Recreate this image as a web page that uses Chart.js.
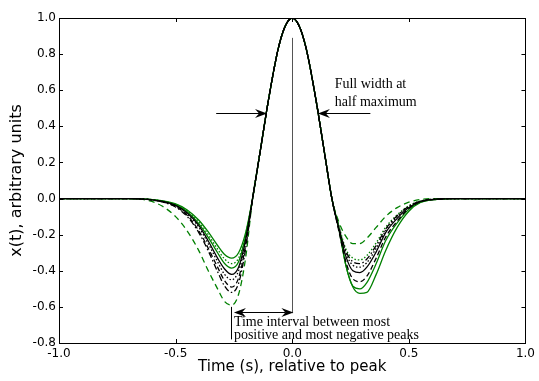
<!DOCTYPE html>
<html><head><meta charset="utf-8">
<script src="https://cdn.jsdelivr.net/npm/chart.js@4/dist/chart.umd.min.js"></script>
<style>html,body{margin:0;padding:0;background:#fff}#wrap{width:539px;height:381px}</style>
</head><body><div id="wrap"><canvas id="c" width="539" height="381"></canvas></div>
<script>
const timeLeft  = [-1, -0.8, -0.7, -0.62, -0.56, -0.5, -0.45, -0.4, -0.36, -0.32, -0.29, -0.26, -0.23, -0.2];
const timeMain  = [-0.17, -0.14, -0.1, -0.06, -0.03, 0, 0.03, 0.06, 0.1, 0.14, 0.17];
const timeRight = [0.2, 0.23, 0.26, 0.29, 0.32, 0.36, 0.4, 0.45, 0.5, 0.55, 0.62, 0.7, 0.8, 1.0];
const mainLobe  = [0, 0.24, 0.56, 0.83, 0.955, 1, 0.955, 0.83, 0.56, 0.24, 0];

const greenSolidA_left  = [0, 0, 0, -0.003, -0.012, -0.03, -0.063, -0.12, -0.185, -0.26, -0.31, -0.33, -0.30, -0.19];
const greenSolidA_right = [-0.16, -0.37, -0.49, -0.525, -0.52, -0.42, -0.29, -0.16, -0.07, -0.022, -0.004, 0, 0, 0];
const greenSolidB_left  = [0, 0, 0, -0.004, -0.013, -0.035, -0.073, -0.14, -0.215, -0.30, -0.36, -0.385, -0.35, -0.21];
const greenSolidB_right = [-0.17, -0.37, -0.485, -0.50, -0.465, -0.36, -0.235, -0.135, -0.06, -0.02, -0.004, 0, 0, 0];
const greenDashed_left  = [0, 0, 0, -0.01, -0.04, -0.10, -0.18, -0.29, -0.40, -0.50, -0.57, -0.59, -0.53, -0.33];
const greenDashed_right = [-0.13, -0.21, -0.25, -0.25, -0.22, -0.16, -0.10, -0.05, -0.02, -0.005, 0, 0, 0, 0];
const greenDotted_left  = [0, 0, 0, -0.004, -0.013, -0.032, -0.068, -0.13, -0.20, -0.28, -0.335, -0.36, -0.33, -0.20];
const greenDotted_right = [-0.15, -0.28, -0.33, -0.34, -0.315, -0.245, -0.16, -0.09, -0.04, -0.013, -0.003, 0, 0, 0];
const blackSolid_left   = [0, 0, 0, -0.004, -0.015, -0.038, -0.08, -0.15, -0.235, -0.33, -0.39, -0.42, -0.38, -0.23];
const blackSolid_right  = [-0.17, -0.32, -0.40, -0.41, -0.38, -0.295, -0.19, -0.11, -0.05, -0.016, -0.003, 0, 0, 0];
const blackDashed_left  = [0, 0, 0, -0.005, -0.017, -0.044, -0.093, -0.18, -0.275, -0.38, -0.455, -0.49, -0.44, -0.26];
const blackDashed_right = [-0.18, -0.35, -0.445, -0.46, -0.43, -0.33, -0.215, -0.125, -0.055, -0.018, -0.004, 0, 0, 0];
const blackDashDot_left = [0, 0, 0, -0.005, -0.018, -0.047, -0.10, -0.19, -0.29, -0.405, -0.485, -0.52, -0.47, -0.28];
const blackDashDot_right= [-0.16, -0.29, -0.35, -0.36, -0.335, -0.26, -0.17, -0.095, -0.043, -0.014, -0.003, 0, 0, 0];
const blackDotted_left  = [0, 0, 0, -0.005, -0.016, -0.04, -0.085, -0.16, -0.25, -0.35, -0.42, -0.45, -0.40, -0.24];
const blackDotted_right = [-0.16, -0.30, -0.37, -0.38, -0.355, -0.275, -0.18, -0.10, -0.045, -0.015, -0.003, 0, 0, 0];

const xTicks = [-1.0, -0.5, 0.0, 0.5, 1.0];
const yTicks = [-0.8, -0.6, -0.4, -0.2, 0.0, 0.2, 0.4, 0.6, 0.8, 1.0];

// annotations (data coordinates)
const fwhmArrowLeft  = [[-0.326, 0.474], [-0.108, 0.474]];
const fwhmArrowRight = [[0.335, 0.476], [0.110, 0.476]];
const fwhmText = ["Full width at", "half maximum"];
const fwhmTextPos = [0.182, 0.63, 0.532];
const peakLine = [[0, 0.89], [0, -0.635]];
const troughLine = [[-0.262, -0.60], [-0.262, -0.78]];
const intervalArrow = [[-0.25, -0.626], [0.005, -0.626]];
const intervalText = ["Time interval between most", "positive and most negative peaks"];
const intervalTextPos = [-0.25, -0.686, -0.757];

const time = timeLeft.concat(timeMain, timeRight);
const GREEN = '#008000', BLACK = '#000000';
function series(left, right){ const v = left.concat(mainLobe, right); return time.map((t,i)=>({x:t, y:v[i]})); }
function ds(label, left, right, color, dash){
  return {label, data: series(left, right), borderColor: color, borderWidth: 1.3, borderDash: dash,
    pointRadius: 0, fill: false, cubicInterpolationMode: 'monotone'};
}

const datasets = [
  ds('black dotted', blackDotted_left, blackDotted_right, BLACK, [1.5, 2]),
  ds('black dash-dot', blackDashDot_left, blackDashDot_right, BLACK, [6, 2.5, 1.5, 2.5]),
  ds('black dashed', blackDashed_left, blackDashed_right, BLACK, [5, 3]),
  ds('black solid', blackSolid_left, blackSolid_right, BLACK, []),
  ds('green dotted', greenDotted_left, greenDotted_right, GREEN, [1.5, 2]),
  ds('green dashed', greenDashed_left, greenDashed_right, GREEN, [6, 4]),
  ds('green solid B', greenSolidB_left, greenSolidB_right, GREEN, []),
  ds('green solid A', greenSolidA_left, greenSolidA_right, GREEN, []),
];

function arrowHead(ctx, x, y, ang){
  const L = 12, W = 4.5, N = 8;
  ctx.save(); ctx.translate(x, y); ctx.rotate(ang);
  ctx.beginPath(); ctx.moveTo(0,0); ctx.lineTo(-L, -W); ctx.lineTo(-N, 0); ctx.lineTo(-L, W); ctx.closePath();
  ctx.fill(); ctx.restore();
}

const frame = {
  id: 'frame',
  afterDraw(chart){
    const {ctx, chartArea: a, scales: {x, y}} = chart;
    ctx.save();
    ctx.strokeStyle = '#000'; ctx.lineWidth = 1;
    ctx.strokeRect(Math.round(a.left)+0.5, Math.round(a.top)+0.5, Math.round(a.right-a.left), Math.round(a.bottom-a.top));
    const tl = 4;
    ctx.beginPath();
    xTicks.forEach(v=>{ const px = Math.round(x.getPixelForValue(v))+0.5;
      ctx.moveTo(px, a.bottom); ctx.lineTo(px, a.bottom - tl);
      ctx.moveTo(px, a.top); ctx.lineTo(px, a.top + tl); });
    yTicks.forEach(v=>{ const py = Math.round(y.getPixelForValue(v))+0.5;
      ctx.moveTo(a.left, py); ctx.lineTo(a.left + tl, py);
      ctx.moveTo(a.right, py); ctx.lineTo(a.right - tl, py); });
    ctx.stroke();

    const P = (p)=>[x.getPixelForValue(p[0]), y.getPixelForValue(p[1])];
    ctx.fillStyle = '#000'; ctx.strokeStyle = '#000'; ctx.lineWidth = 1;
    let p0 = P(peakLine[0]), p1 = P(peakLine[1]);
    ctx.strokeStyle = '#555';
    ctx.beginPath(); ctx.moveTo(Math.round(p0[0])+0.5, p0[1]); ctx.lineTo(Math.round(p1[0])+0.5, p1[1]); ctx.stroke();
    ctx.strokeStyle = '#000';
    p0 = P(troughLine[0]); p1 = P(troughLine[1]);
    ctx.beginPath(); ctx.moveTo(Math.round(p0[0])+0.5, p0[1]); ctx.lineTo(Math.round(p1[0])+0.5, p1[1]); ctx.stroke();
    [fwhmArrowLeft, fwhmArrowRight].forEach(arr=>{
      const s = P(arr[0]), e = P(arr[1]);
      const ang = Math.atan2(e[1]-s[1], e[0]-s[0]);
      ctx.beginPath(); ctx.moveTo(s[0], Math.round(s[1])+0.5); ctx.lineTo(e[0]-8*Math.cos(ang), Math.round(e[1])+0.5); ctx.stroke();
      arrowHead(ctx, e[0], Math.round(e[1])+0.5, ang);
    });
    const s = P(intervalArrow[0]), e = P(intervalArrow[1]);
    const yy = Math.round(s[1])+0.5;
    ctx.beginPath(); ctx.moveTo(s[0]+8, yy); ctx.lineTo(e[0]-8, yy); ctx.stroke();
    arrowHead(ctx, s[0], yy, Math.PI); arrowHead(ctx, e[0], yy, 0);
    ctx.font = '14px "Liberation Serif", serif';
    ctx.textBaseline = 'middle'; ctx.textAlign = 'left';
    ctx.fillText(fwhmText[0], x.getPixelForValue(fwhmTextPos[0]), y.getPixelForValue(fwhmTextPos[1]));
    ctx.fillText(fwhmText[1], x.getPixelForValue(fwhmTextPos[0]), y.getPixelForValue(fwhmTextPos[2]));
    ctx.fillText(intervalText[0], x.getPixelForValue(intervalTextPos[0]), y.getPixelForValue(intervalTextPos[1]));
    ctx.fillText(intervalText[1], x.getPixelForValue(intervalTextPos[0]), y.getPixelForValue(intervalTextPos[2]));
    ctx.restore();
  }
};

const fmt = v => (Math.abs(v) < 1e-9 ? 0 : v).toFixed(1);

new Chart(document.getElementById('c'), {
  type: 'line',
  data: { datasets },
  options: {
    responsive: false, animation: false, devicePixelRatio: 1,
    layout: { padding: { left: 0, right: 11, top: 18, bottom: 0 } },
    plugins: { legend: { display: false }, tooltip: { enabled: false } },
    scales: {
      x: { type: 'linear', min: -1, max: 1,
        afterFit: s => { s.height = 38; },
        afterBuildTicks: s => { s.ticks = xTicks.map(v=>({value: v})); },
        ticks: { callback: fmt, color: '#000', font: { family: 'DejaVu Sans', size: 12 }, padding: 4, maxRotation: 0, autoSkip: false },
        grid: { display: false, drawTicks: false }, border: { display: false },
        title: { display: true, text: 'Time (s), relative to peak', color: '#000',
          font: { family: 'DejaVu Sans', size: 15 }, padding: { top: 0, bottom: 5 } } },
      y: { type: 'linear', min: -0.8, max: 1.0,
        afterFit: s => { s.width = 59; },
        afterBuildTicks: s => { s.ticks = yTicks.map(v=>({value: v})); },
        ticks: { callback: fmt, color: '#000', font: { family: 'DejaVu Sans', size: 12 }, padding: 3, autoSkip: false },
        grid: { display: false, drawTicks: false }, border: { display: false },
        title: { display: true, text: 'x(t), arbitrary units', color: '#000',
          font: { family: 'DejaVu Sans', size: 16 }, padding: { top: 7, bottom: 0 } } }
    }
  },
  plugins: [frame]
});
</script></body></html>
